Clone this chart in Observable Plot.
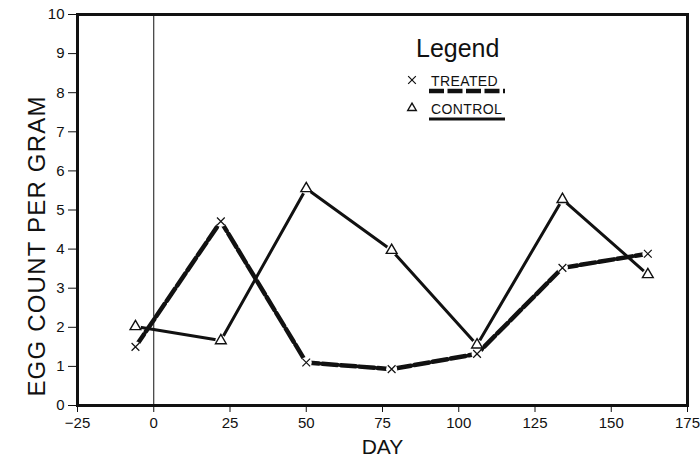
<!DOCTYPE html>
<html>
<head>
<meta charset="utf-8">
<script src="https://cdn.jsdelivr.net/npm/d3@7"></script>
<script src="https://cdn.jsdelivr.net/npm/@observablehq/plot@0.6"></script>
<style>
  body { margin: 0; background: #fff; }
  #chart svg { font-family: "Liberation Sans", Arial, sans-serif; }
  g[aria-label="x-axis label"] text { font-size: 21px; }
</style>
</head>
<body>
<div id="chart"></div>
<script>
const days = [-6, 22, 50, 78, 106, 134, 162];
const treated = [1.5, 4.71, 1.1, 0.93, 1.32, 3.52, 3.88];
const control = [2.02, 1.66, 5.55, 3.97, 1.55, 5.27, 3.35];
const xTicks = [-25, 0, 25, 50, 75, 100, 125, 150, 175];
const yTicks = [0, 1, 2, 3, 4, 5, 6, 7, 8, 9, 10];
const seriesNames = ["TREATED", "CONTROL"];
const yLabel = "EGG COUNT PER GRAM";

const tData = days.map((d, i) => ({day: d, v: treated[i]}));
const cData = days.map((d, i) => ({day: d, v: control[i]}));
const all = tData.concat(cData);

const ink = "#111";
const plot = Plot.plot({
  width: 700,
  height: 460,
  marginLeft: 77,
  marginRight: 13,
  marginTop: 14,
  marginBottom: 55,
  style: {fontFamily: '"Liberation Sans", Arial, sans-serif', fontSize: "15px", color: ink, background: "#fff"},
  x: {domain: [-25, 175]},
  y: {domain: [0, 10]},
  marks: [
    Plot.ruleX([0], {stroke: ink, strokeWidth: 1}),
    Plot.line(cData, {x: "day", y: "v", stroke: ink, strokeWidth: 3}),
    Plot.line(tData, {x: "day", y: "v", stroke: ink, strokeWidth: 4.5, strokeDasharray: "15,3.5"}),
    Plot.dot(all, {x: "day", y: "v", r: 5.5, fill: "#fff", stroke: null}),
    Plot.dot(tData, {x: "day", y: "v", symbol: "times", r: 3.6, stroke: ink, strokeWidth: 1.2}),
    Plot.dot(cData, {x: "day", y: "v", symbol: "triangle", r: 4, stroke: ink, fill: "none", strokeWidth: 1.4}),
    Plot.frame({stroke: ink, strokeWidth: 3}),
    Plot.axisX({ticks: xTicks, tickFormat: d => d < 0 ? "\u2212" + Math.abs(d) : d, tickSize: 7, tickPadding: 5,
      label: "DAY", labelAnchor: "center", labelArrow: "none", labelOffset: 48, stroke: ink}),
    Plot.axisY({ticks: yTicks, tickSize: 9, tickPadding: 4, label: null, stroke: ink}),
    Plot.text([yLabel], {text: d => d, frameAnchor: "left", textAnchor: "middle", rotate: -90, dx: -40, dy: 36,
      fontSize: 24, fill: ink})
  ]
});
document.getElementById("chart").appendChild(plot);
d3.select(plot).selectAll('g[aria-label="text"] text').attr("letter-spacing", 1.2);

// Legend
const svg = d3.select(plot);
const lg = svg.append("g").attr("fill", ink).attr("text-anchor", "start")
  .attr("font-family", '"Liberation Sans", Arial, sans-serif');
lg.append("text").attr("x", 416).attr("y", 57).attr("font-size", 25).text("Legend");
const rows = [
  {name: seriesNames[0], y: 86, dash: "15,3.5", w: 4.5, sym: d3.symbolTimes, symSize: 40},
  {name: seriesNames[1], y: 114, dash: null, w: 3, sym: d3.symbolTriangle, symSize: 32}
];
rows.forEach(r => {
  lg.append("path").attr("transform", `translate(412,${r.y - 6})`)
    .attr("d", d3.symbol(r.sym, r.symSize)())
    .attr("fill", "none").attr("stroke", ink).attr("stroke-width", r.sym === d3.symbolTimes ? 1.2 : 1.4);
  lg.append("text").attr("x", 431).attr("y", r.y).attr("font-size", 14).attr("letter-spacing", 0.4).text(r.name);
  lg.append("line").attr("x1", 429).attr("x2", 505).attr("y1", r.y + 5).attr("y2", r.y + 5)
    .attr("stroke", ink).attr("stroke-width", r.w).attr("stroke-dasharray", r.dash);
});
</script>
</body>
</html>
